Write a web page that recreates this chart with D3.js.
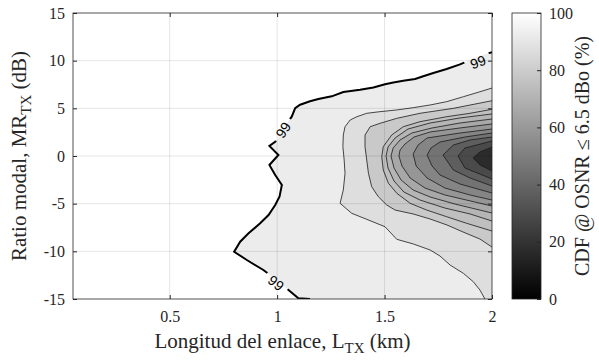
<!DOCTYPE html>
<html lang="en">
<head>
<meta charset="UTF-8" />
<title>CDF contour</title>
<script src="https://d3js.org/d3.v7.min.js"></script>
<style>
  body { margin: 0; background: #fff; }
  svg { display: block; }
  text { font-family: "Liberation Serif", "Times New Roman", serif; fill: #262626; }
  .clabel { font-family: "Liberation Sans", Arial, sans-serif; fill: #000; }
</style>
</head>
<body>
<svg id="chart" width="599" height="364"></svg>
<script>
// tick values
const xTicks = [0.5, 1, 1.5, 2];
const yTicks = [-15, -10, -5, 0, 5, 10, 15];
const cTicks = [0, 20, 40, 60, 80, 100];

// contour lines, [L_TX (km), MR_TX (dB)], outermost first
const c99 = [[2.0,10.88],[1.952,10.56],[1.848,9.58],[1.789,9.12],[1.727,8.71],[1.680,8.36],[1.642,8.08],[1.587,7.90],[1.541,7.71],[1.502,7.53],[1.448,7.18],[1.386,6.94],[1.308,6.71],[1.254,6.26],[1.192,5.98],[1.153,5.74],[1.107,5.38],[1.084,5.03],[1.068,4.12],[1.045,3.43],[1.022,2.38],[0.991,1.50],[0.964,1.05],[1.006,0.10],[0.964,-0.94],[0.991,-1.99],[1.022,-3.04],[1.011,-4.27],[0.991,-5.14],[0.960,-6.19],[0.921,-7.06],[0.867,-8.11],[0.828,-8.99],[0.800,-10.04],[0.859,-10.91],[0.936,-11.96],[0.967,-12.49],[1.053,-14.06],[1.099,-14.93],[1.153,-15.0]];
const c1 = [[2.0,7.13],[1.944,6.74],[1.867,6.22],[1.789,5.70],[1.712,5.35],[1.634,5.07],[1.557,4.83],[1.479,4.65],[1.417,4.48],[1.371,4.12],[1.340,3.78],[1.316,3.07],[1.308,2.20],[1.306,0.98],[1.312,-0.42],[1.316,-1.81],[1.308,-3.57],[1.293,-4.96],[1.347,-6.01],[1.417,-6.64],[1.502,-7.42],[1.557,-8.74],[1.634,-9.23],[1.712,-9.86],[1.758,-10.49],[1.805,-11.44],[1.867,-12.31],[1.913,-13.19],[1.944,-14.06],[1.967,-15.0]];
const c2 = [[2.0,5.80],[1.820,5.00],[1.665,4.48],[1.557,3.95],[1.479,3.43],[1.433,3.07],[1.409,2.20],[1.409,0.98],[1.417,-0.42],[1.425,-1.81],[1.440,-3.22],[1.471,-4.27],[1.510,-5.14],[1.549,-5.67],[1.633,-6.08],[1.712,-6.61],[1.791,-7.24],[1.865,-7.97],[1.944,-8.71],[2.0,-9.55]];
const c3 = [[2.0,4.90],[1.898,4.48],[1.789,4.12],[1.665,3.60],[1.587,3.07],[1.533,2.20],[1.494,0.98],[1.487,-0.07],[1.494,-1.47],[1.518,-2.86],[1.557,-3.91],[1.619,-4.96],[1.696,-5.67],[1.789,-6.37],[1.882,-7.06],[2.0,-7.87]];
const c4 = [[2.0,4.41],[1.851,3.99],[1.712,3.46],[1.609,2.83],[1.549,1.89],[1.516,0.94],[1.507,0.0],[1.516,-1.26],[1.544,-2.62],[1.590,-3.78],[1.665,-4.62],[1.781,-5.46],[1.898,-6.08],[2.0,-6.82]];
const c5 = [[2.0,3.88],[1.851,3.46],[1.721,2.94],[1.628,2.42],[1.572,1.68],[1.540,0.84],[1.530,0.0],[1.544,-1.26],[1.577,-2.52],[1.633,-3.57],[1.712,-4.30],[1.828,-5.04],[2.0,-5.98]];
const c6 = [[2.0,3.36],[1.851,2.94],[1.712,2.52],[1.637,1.99],[1.595,1.26],[1.572,0.63],[1.567,0.0],[1.581,-1.05],[1.619,-2.31],[1.688,-3.36],[1.781,-4.09],[2.0,-5.25]];
const c7 = [[2.0,2.83],[1.851,2.41],[1.698,1.89],[1.656,1.15],[1.633,0.21],[1.647,-1.05],[1.698,-2.31],[1.781,-3.36],[1.898,-4.09],[2.0,-4.62]];
const c8 = [[2.0,2.41],[1.874,1.99],[1.758,1.47],[1.716,0.84],[1.698,0.10],[1.721,-1.05],[1.758,-1.99],[1.851,-2.94],[2.0,-3.88]];
const c9 = [[2.0,1.99],[1.898,1.68],[1.820,1.15],[1.772,0.10],[1.820,-1.47],[1.898,-2.31],[2.0,-3.15]];
const c10 = [[2.0,1.57],[1.874,0.84],[1.842,0.0],[1.874,-1.26],[2.0,-2.41]];
const c11 = [[2.0,0.94],[1.944,0.42],[1.912,-0.21],[1.944,-0.94],[2.0,-1.57]];

const contours = [c99, c1, c2, c3, c4, c5, c6, c7, c8, c9, c10, c11];
// CDF value shown inside each contour (%)
const fillValues = [92.5, 87, 79, 75, 71, 66, 59, 52, 45, 37, 29, 17];
// "99" label spots on the thick line
const labelSpots = [[1.935, 9.86], [1.028, 2.73], [0.995, -13.32]];

const svg = d3.select("#chart");
const margin = { left: 73, top: 13, right: 107, bottom: 65 };
const W = 599, H = 364;
const x = d3.scaleLinear().domain([0.05, 2]).range([margin.left, 492]);
const y = d3.scaleLinear().domain([-15, 15]).range([299, margin.top]);
const gray = d3.scaleLinear().domain([0, 100]).range(["#000", "#fff"]);

const line = d3.line().x(d => x(d[0])).y(d => y(d[1]));

// clip to plot area
const defs = svg.append("defs");
defs.append("clipPath").attr("id", "plotClip")
  .append("rect").attr("x", x(0.05)).attr("y", y(15))
  .attr("width", x(2) - x(0.05)).attr("height", y(-15) - y(15));

const plot = svg.append("g").attr("clip-path", "url(#plotClip)");
plot.append("rect").attr("x", x(0.05)).attr("y", y(15))
  .attr("width", x(2) - x(0.05)).attr("height", y(-15) - y(15)).attr("fill", "#fff");

// filled regions (contours ending on the bottom edge close through the corner)
contours.forEach((c, i) => {
  const pts = c[c.length - 1][1] <= -15 ? c.concat([[2, -15]]) : c;
  plot.append("path").attr("d", line(pts) + "Z")
    .attr("fill", gray(fillValues[i])).attr("stroke", "none");
});

// thin contour lines
contours.slice(1).forEach(c => {
  plot.append("path").attr("d", line(c)).attr("fill", "none")
    .attr("stroke", "#1a1a1a").attr("stroke-width", 0.8);
});

// label angles from the line direction
const labels = labelSpots.map(p => {
  let best = 0, bd = Infinity;
  c99.forEach((q, k) => {
    const d = (x(q[0]) - x(p[0])) ** 2 + (y(q[1]) - y(p[1])) ** 2;
    if (d < bd) { bd = d; best = k; }
  });
  const a = c99[Math.max(best - 1, 0)], b = c99[Math.min(best + 1, c99.length - 1)];
  let ang = Math.atan2(y(b[1]) - y(a[1]), x(b[0]) - x(a[0])) * 180 / Math.PI;
  if (ang > 90) ang -= 180;
  if (ang < -90) ang += 180;
  return { px: x(p[0]), py: y(p[1]), ang };
});

const mask = defs.append("mask").attr("id", "lblMask").attr("maskUnits", "userSpaceOnUse")
  .attr("x", 0).attr("y", 0).attr("width", W).attr("height", H);
mask.append("rect").attr("width", W).attr("height", H).attr("fill", "#fff");
labels.forEach(l => {
  mask.append("rect").attr("x", -13).attr("y", -7).attr("width", 26).attr("height", 14)
    .attr("fill", "#000")
    .attr("transform", `translate(${l.px},${l.py}) rotate(${l.ang})`);
});

plot.append("path").attr("d", line(c99)).attr("fill", "none")
  .attr("stroke", "#000").attr("stroke-width", 2).attr("mask", "url(#lblMask)");

// grid on top
const grid = svg.append("g").attr("stroke", "#000").attr("stroke-opacity", 0.13).attr("stroke-width", 0.8);
xTicks.filter(t => t < 2).forEach(t => {
  grid.append("line").attr("x1", x(t)).attr("x2", x(t)).attr("y1", y(15)).attr("y2", y(-15));
});
yTicks.filter(t => t > -15 && t < 15).forEach(t => {
  grid.append("line").attr("x1", x(0.05)).attr("x2", x(2)).attr("y1", y(t)).attr("y2", y(t));
});

labels.forEach(l => {
  svg.append("text").attr("class", "clabel")
    .attr("transform", `translate(${l.px},${l.py}) rotate(${l.ang})`)
    .attr("text-anchor", "middle").attr("dy", "0.36em")
    .attr("font-size", 14).text("99");
});

// axes
function styleAxis(g) {
  g.select(".domain").remove();
  g.selectAll(".tick line").attr("stroke", "#262626");
  g.selectAll(".tick text").attr("font-size", 16).attr("fill", "#262626");
}
svg.append("g").attr("transform", `translate(0,${y(-15)})`)
  .call(d3.axisBottom(x).tickValues(xTicks).tickFormat(d3.format("")).tickSizeInner(-4).tickSizeOuter(0).tickPadding(12))
  .call(styleAxis);
svg.append("g").attr("transform", `translate(0,${y(15)})`)
  .call(d3.axisTop(x).tickValues(xTicks).tickFormat("").tickSizeInner(-4).tickSizeOuter(0))
  .call(styleAxis);
svg.append("g").attr("transform", `translate(${x(0.05)},0)`)
  .call(d3.axisLeft(y).tickValues(yTicks).tickFormat(d => String(d)).tickSizeInner(-4).tickSizeOuter(0).tickPadding(8))
  .call(styleAxis);
svg.append("g").attr("transform", `translate(${x(2)},0)`)
  .call(d3.axisRight(y).tickValues(yTicks).tickFormat("").tickSizeInner(-4).tickSizeOuter(0))
  .call(styleAxis);
svg.append("rect").attr("x", x(0.05)).attr("y", y(15))
  .attr("width", x(2) - x(0.05)).attr("height", y(-15) - y(15))
  .attr("fill", "none").attr("stroke", "#262626").attr("stroke-width", 0.8);

// axis titles
const xl = svg.append("text").attr("x", (x(0.05) + x(2)) / 2).attr("y", 348)
  .attr("text-anchor", "middle").attr("font-size", 21);
xl.append("tspan").text("Longitud del enlace, L");
xl.append("tspan").attr("font-size", 15).attr("dy", 5).text("TX");
xl.append("tspan").attr("dy", -5).text(" (km)");

const yl = svg.append("text").attr("transform", `translate(26,${(y(15) + y(-15)) / 2}) rotate(-90)`)
  .attr("text-anchor", "middle").attr("font-size", 21);
yl.append("tspan").text("Ratio modal, MR");
yl.append("tspan").attr("font-size", 15).attr("dy", 5).text("TX");
yl.append("tspan").attr("dy", -5).text(" (dB)");

// colorbar
const cb = { x: 512, w: 29 };
const c = d3.scaleLinear().domain([0, 100]).range([299, 13]);
const grad = defs.append("linearGradient").attr("id", "cbGrad")
  .attr("x1", 0).attr("y1", 1).attr("x2", 0).attr("y2", 0);
grad.append("stop").attr("offset", 0).attr("stop-color", gray(0));
grad.append("stop").attr("offset", 1).attr("stop-color", gray(100));
svg.append("rect").attr("x", cb.x).attr("y", c(100)).attr("width", cb.w)
  .attr("height", c(0) - c(100)).attr("fill", "url(#cbGrad)");
svg.append("g").attr("transform", `translate(${cb.x + cb.w},0)`)
  .call(d3.axisRight(c).tickValues(cTicks).tickSizeInner(-4).tickSizeOuter(0).tickPadding(8))
  .call(styleAxis);
svg.append("rect").attr("x", cb.x).attr("y", c(100)).attr("width", cb.w)
  .attr("height", c(0) - c(100)).attr("fill", "none").attr("stroke", "#262626").attr("stroke-width", 0.8);

svg.append("text").attr("transform", `translate(589,${(c(0) + c(100)) / 2}) rotate(-90)`)
  .attr("text-anchor", "middle").attr("font-size", 20)
  .text("CDF @ OSNR \u2264 6.5 dBo (%)");
</script>
</body>
</html>
